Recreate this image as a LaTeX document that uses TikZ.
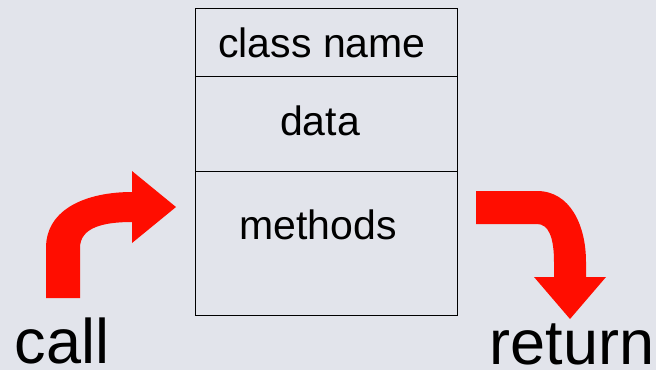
\documentclass[tikz,border=0pt]{standalone}
\usepackage{fontspec}
\setmainfont{Liberation Sans}
\definecolor{bg}{HTML}{E2E4EB}
\definecolor{arrowred}{HTML}{FF0D00}
\begin{document}
\begin{tikzpicture}[x=1pt,y=-1pt,
  boxline/.style={draw=black,line width=1.3pt},
  boxtext/.style={anchor=base,inner sep=0pt,font=\fontsize{41}{41}\selectfont},
  bigtext/.style={anchor=base,inner sep=0pt,font=\fontsize{63}{63}\selectfont},
  redarrow/.style={fill=arrowred,draw=none}]
\fill[bg] (0,0) rectangle (656,370);
\useasboundingbox (0,0) rectangle (656,370);
% class box
\node[boxline,minimum width=262pt,minimum height=68pt,inner sep=0pt,anchor=north west] (top) at (194.5,8) {};
\node[boxline,minimum width=262pt,minimum height=94.7pt,inner sep=0pt,anchor=north west] (mid) at (194.5,76) {};
\node[boxline,minimum width=262pt,minimum height=144.3pt,inner sep=0pt,anchor=north west] (bot) at (194.5,170.7) {};
\node[boxtext] (cname) at (322,57) {class name};
\node[boxtext] (data) at (320,135) {data};
\node[boxtext] (meth) at (318,239) {methods};
% call arrow
\path[redarrow] (46,298) -- (46,248) .. controls (46,208) and (88,192) .. (132,192)
  -- (132,171) -- (176,207) -- (132,243) -- (132,222)
  .. controls (102,222) and (80,228) .. (80,248) -- (80,298) -- cycle;
% return arrow
\path[redarrow] (476,191) -- (537,191) .. controls (570,191) and (586,225) .. (586,262)
  -- (586,277) -- (606,277) -- (570,319) -- (534,277) -- (554,277) -- (554,262)
  .. controls (554,236) and (548,224) .. (537,224) -- (476,224) -- cycle;
\node[bigtext] (call) at (62,363) {call};
\node[bigtext] (ret) at (572,364) {return};
\end{tikzpicture}
\end{document}
